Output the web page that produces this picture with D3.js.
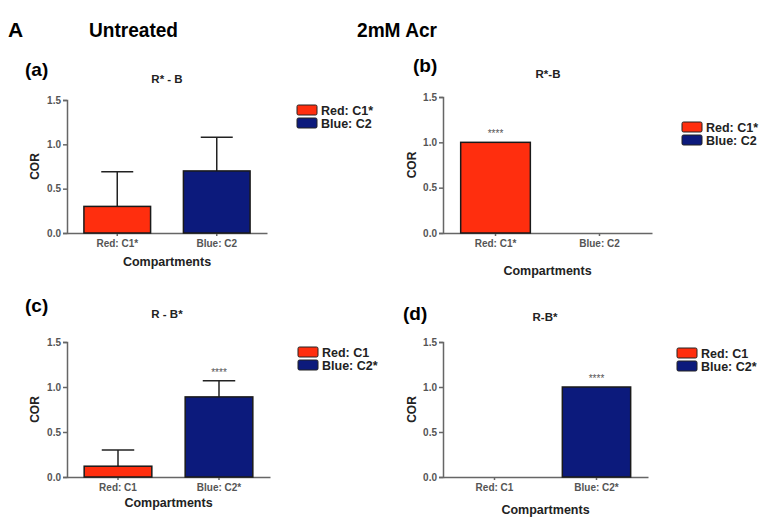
<!DOCTYPE html>
<html>
<head>
<meta charset="utf-8">
<script src="https://cdn.jsdelivr.net/npm/d3@7"></script>
<style>
  body { margin: 0; background: #fff; }
  svg { font-family: "Liberation Sans", Arial, sans-serif; }
</style>
</head>
<body>
<svg id="chart" width="763" height="521"></svg>
<script>
// data, one set per panel
const tags = ["(a)", "(b)", "(c)", "(d)"];
const titles = ["R* - B", "R*-B", "R - B*", "R-B*"];
const categories = [
  ["Red: C1*", "Blue: C2"],
  ["Red: C1*", "Blue: C2"],
  ["Red: C1", "Blue: C2*"],
  ["Red: C1", "Blue: C2*"]
];
const means = [[0.30, 0.70], [1.00, 0], [0.12, 0.89], [0, 1.00]];
const errors = [[0.39, 0.38], [0, 0], [0.18, 0.18], [0, 0]];
const stars = [["", ""], ["****", ""], ["", "****"], ["", "****"]];
const yTicks = [0, 0.5, 1.0, 1.5];
const colors = ["#ff2e0e", "#0c1a7c"];

// panel geometry (pixels)
const layout = [
  { x0: 67, x1: 267, yTop: 100, yBot: 233, tag: [25, 76], title: [167, 83], cor: 39, xlab: 266, leg: [297, 105] },
  { x0: 443, x1: 652, yTop: 97, yBot: 233, tag: [413, 72], title: [548, 78], cor: 416, xlab: 275, leg: [682, 122] },
  { x0: 67, x1: 270, yTop: 342, yBot: 477, tag: [25, 312], title: [167, 318], cor: 39, xlab: 507, leg: [298, 347] },
  { x0: 443, x1: 648, yTop: 342, yBot: 477, tag: [403, 320], title: [545, 321], cor: 416, xlab: 514, leg: [677, 348] }
];

const svg = d3.select("#chart");

svg.append("text").attr("x", 8).attr("y", 37)
  .style("font-size", "21px").style("font-weight", "bold").text("A");
svg.append("text").attr("x", 89).attr("y", 37)
  .attr("textLength", 89).attr("lengthAdjust", "spacingAndGlyphs")
  .style("font-size", "21px").style("font-weight", "bold").text("Untreated");
svg.append("text").attr("x", 357).attr("y", 37)
  .attr("textLength", 80).attr("lengthAdjust", "spacingAndGlyphs")
  .style("font-size", "21px").style("font-weight", "bold").text("2mM Acr");

function styleAxis(sel) {
  sel.attr("font-family", null).attr("font-size", null);
  sel.selectAll(".domain, .tick line").attr("stroke", "#666").attr("stroke-width", 1.5);
  sel.selectAll(".tick text")
    .style("font-size", "10px").style("font-weight", "bold").style("fill", "#555");
}

function drawPanel(i) {
  const L = layout[i];
  const g = svg.append("g");

  const x = d3.scaleBand()
    .domain(categories[i])
    .range([L.x0, L.x1])
    .paddingInner(0.33)
    .paddingOuter(0.17);

  const y = d3.scaleLinear().domain([0, 1.5]).range([L.yBot, L.yTop]);

  g.append("g")
    .attr("transform", `translate(${L.x0},0)`)
    .call(d3.axisLeft(y).tickValues(yTicks).tickFormat(d3.format(".1f")).tickSize(4).tickPadding(2))
    .call(styleAxis);

  g.append("g")
    .attr("transform", `translate(0,${L.yBot})`)
    .call(d3.axisBottom(x).tickSize(3).tickPadding(4).tickSizeOuter(0))
    .call(styleAxis);

  const rows = categories[i].map((c, j) => ({ c, m: means[i][j], e: errors[i][j], s: stars[i][j], col: colors[j] }));

  // error bars (upper only)
  rows.filter(d => d.e > 0).forEach(d => {
    const cx = x(d.c) + x.bandwidth() / 2;
    g.append("line")
      .attr("x1", cx).attr("x2", cx)
      .attr("y1", y(d.m)).attr("y2", y(d.m + d.e))
      .attr("stroke", "#222").attr("stroke-width", 1.5);
    g.append("line")
      .attr("x1", cx - x.bandwidth() * 0.24).attr("x2", cx + x.bandwidth() * 0.24)
      .attr("y1", y(d.m + d.e)).attr("y2", y(d.m + d.e))
      .attr("stroke", "#222").attr("stroke-width", 1.5);
  });

  g.selectAll(".bar")
    .data(rows.filter(d => d.m > 0))
    .enter()
    .append("rect")
    .attr("x", d => x(d.c))
    .attr("y", d => y(d.m))
    .attr("width", x.bandwidth())
    .attr("height", d => y(0) - y(d.m))
    .attr("fill", d => d.col)
    .attr("stroke", "#1a1a1a")
    .attr("stroke-width", 1.5);

  g.selectAll(".star")
    .data(rows.filter(d => d.s))
    .enter()
    .append("text")
    .attr("x", d => x(d.c) + x.bandwidth() / 2)
    .attr("y", d => y(d.m + d.e) - 5)
    .attr("text-anchor", "middle")
    .style("font-size", "10px").style("fill", "#555")
    .text(d => d.s);

  g.append("text").attr("x", L.tag[0]).attr("y", L.tag[1])
    .style("font-size", "19px").style("font-weight", "bold").text(tags[i]);

  g.append("text").attr("x", L.title[0]).attr("y", L.title[1])
    .attr("text-anchor", "middle")
    .style("font-size", "11.5px").style("font-weight", "bold").style("fill", "#222")
    .text(titles[i]);

  g.append("text")
    .attr("transform", `translate(${L.cor},${(L.yTop + L.yBot) / 2}) rotate(-90)`)
    .attr("text-anchor", "middle")
    .style("font-size", "12px").style("font-weight", "bold").style("fill", "#222")
    .text("COR");

  g.append("text").attr("x", (L.x0 + L.x1) / 2).attr("y", L.xlab)
    .attr("text-anchor", "middle")
    .style("font-size", "12.5px").style("font-weight", "bold").style("fill", "#222")
    .text("Compartments");

  categories[i].forEach((c, j) => {
    g.append("rect")
      .attr("x", L.leg[0]).attr("y", L.leg[1] + j * 13)
      .attr("width", 20).attr("height", 10).attr("rx", 1.5)
      .attr("fill", colors[j]).attr("stroke", "#222").attr("stroke-width", 1);
    g.append("text")
      .attr("x", L.leg[0] + 24).attr("y", L.leg[1] + j * 13 + 9.5)
      .style("font-size", "12.5px").style("font-weight", "bold").style("fill", "#222")
      .text(c);
  });
}

d3.range(4).forEach(drawPanel);
</script>
</body>
</html>
